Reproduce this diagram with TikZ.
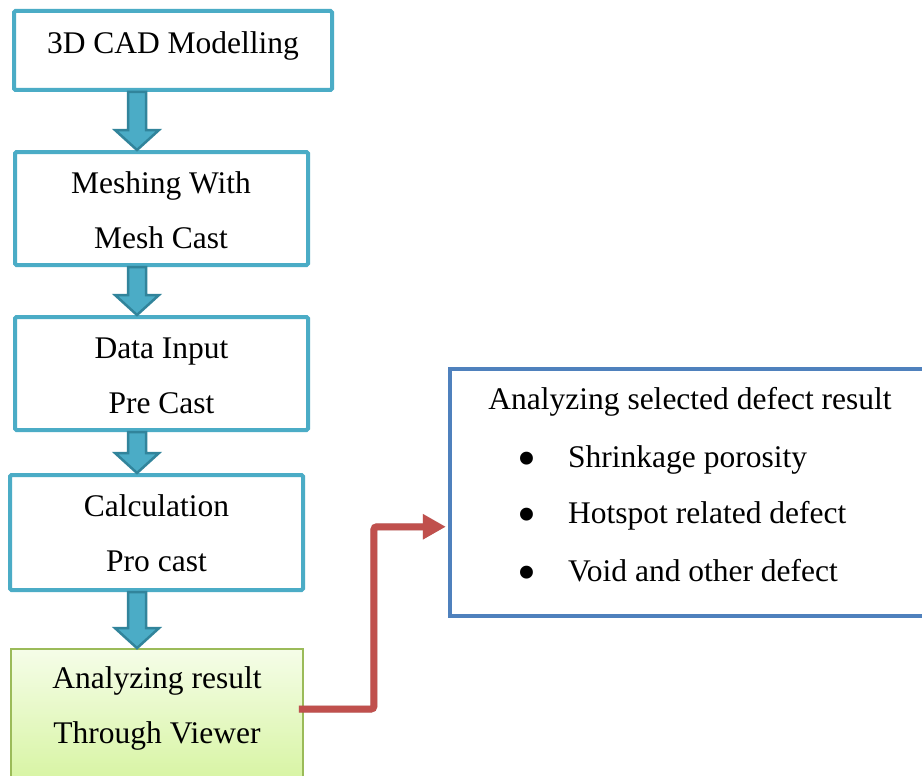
\documentclass[tikz,border=0pt]{standalone}
\usepackage{fontspec}
\setmainfont{Liberation Serif}
\usetikzlibrary{arrows.meta,calc}
\definecolor{cyanb}{HTML}{4BACC6}
\definecolor{cyand}{HTML}{31849B}
\definecolor{blueb}{HTML}{4F81BD}
\definecolor{redb}{HTML}{C0504D}
\definecolor{greenb}{HTML}{9BBB59}
\definecolor{greentop}{HTML}{F5FDE8}
\definecolor{greenbot}{HTML}{D3F399}
\newcommand\blockarr[2]{%
  \path[barrow] let \p1=(#1.south -| ax), \p2=(#2.north -| ax) in
    (\x1-9pt,\y1) -- (\x1+9pt,\y1) -- (\x1+9pt,\y2+20pt) -- (\x1+22pt,\y2+20pt)
    -- (\x1,\y2) -- (\x1-22pt,\y2+20pt) -- (\x1-9pt,\y2+20pt) -- cycle;}
\begin{document}
\begin{tikzpicture}[x=1pt,y=-1pt,
  cbox/.style={draw=cyanb, line width=4pt, rounded corners=1.5pt, inner sep=0pt, fill=white},
  gbox/.style={draw=greenb, line width=1.8pt, inner sep=0pt, top color=greentop, bottom color=greenbot},
  bbox/.style={draw=blueb, line width=4.5pt, inner sep=0pt, fill=white},
  txt/.style={font=\fontsize{31.5}{55}\selectfont, align=center, inner sep=0pt, anchor=base},
  ltxt/.style={font=\fontsize{31.5}{55}\selectfont, inner sep=0pt, anchor=base west},
  bul/.style={font=\fontsize{54}{54}\selectfont, inner sep=0pt, anchor=center},
  barrow/.style={fill=cyanb, draw=cyand, line width=2.5pt, line join=miter},
  rarrow/.style={draw=redb, line width=7pt, rounded corners=3pt, shorten >=2pt,
    -{Triangle[length=23pt,width=24pt]}},
  rshadow/.style={draw=black, opacity=0.15, line width=7pt, rounded corners=3pt, shorten >=2pt,
    -{Triangle[length=23pt,width=24pt]}}
]
\useasboundingbox (0,0) rectangle (922,776);
\clip (0,0) rectangle (922,776);
\fill[white] (0,0) rectangle (922,776);
\coordinate (ax) at (137,0);

% boxes
\node[cbox, minimum width=318pt, minimum height=79pt] (b1) at (173,50.5) {};
\node[cbox, minimum width=293pt, minimum height=113pt] (b2) at (161.5,208.5) {};
\node[cbox, minimum width=293pt, minimum height=113pt] (b3) at (161.5,373.5) {};
\node[cbox, minimum width=293pt, minimum height=115pt] (b4) at (156.5,532.5) {};
\node[gbox, minimum width=292pt, minimum height=151pt] (b5) at (157,724.5) {};
\node[bbox, minimum width=485pt, minimum height=247pt] (rb) at (692.5,492.5) {};

% texts
\node[txt] (t1) at (173,54) {3D CAD Modelling};
\node[txt] (t2) at (161,248) {Meshing With\\Mesh Cast};
\node[txt] (t3) at (161.5,413) {Data Input\\Pre Cast};
\node[txt] (t4) at (156.5,571) {Calculation\\Pro cast};
\node[txt] (t5) at (157,743) {Analyzing result\\Through Viewer};

\node[txt] (h) at (690,409) {Analyzing selected defect result};
\node[bul] (d1) at (527,464) {•};
\node[bul] (d2) at (527,520) {•};
\node[bul] (d3) at (527,578) {•};
\node[ltxt] (i1) at (568,467) {Shrinkage porosity};
\node[ltxt] (i2) at (568,523) {Hotspot related defect};
\node[ltxt] (i3) at (568,581) {Void and other defect};

% block arrows
\blockarr{b1}{b2}
\blockarr{b2}{b3}
\blockarr{b3}{b4}
\blockarr{b4}{b5}

% red connector
\draw[rshadow, xshift=2pt, yshift=-3pt] ($(b5.north east)+(-5,61)$) -- ++(75,0) |- ($(rb.north west)+(0,160)$);
\draw[rarrow] ($(b5.north east)+(-5,61)$) -- ++(75,0) |- ($(rb.north west)+(0,160)$);
\end{tikzpicture}
\end{document}
